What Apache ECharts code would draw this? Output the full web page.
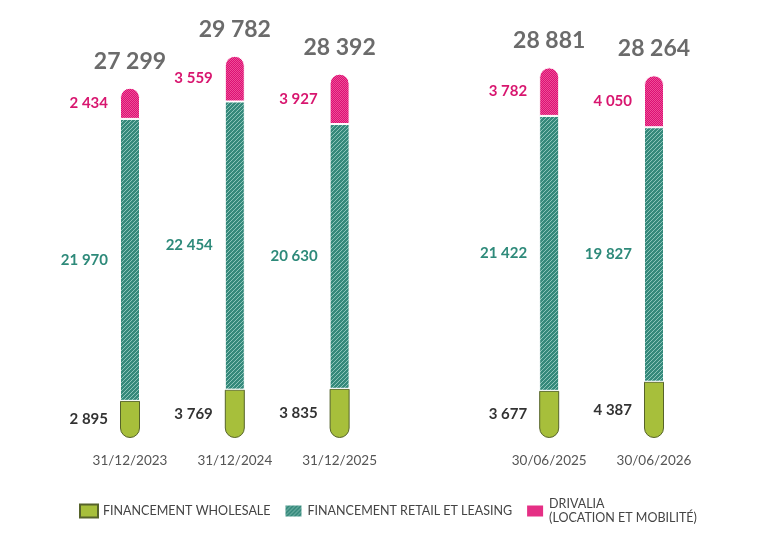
<!DOCTYPE html>
<html>
<head>
<meta charset="utf-8">
<script src="https://cdn.jsdelivr.net/npm/echarts@6/dist/echarts.min.js"></script>
<style>
  html, body { margin: 0; padding: 0; background: #fff; }
  #chart { width: 778px; height: 540px; }
</style>
</head>
<body>
<div id="chart"></div>
<script>
// dates (the empty slot is the gap between the two groups)
var dates = ["31/12/2023", "31/12/2024", "31/12/2025", "", "30/06/2025", "30/06/2026"];
var wholesale = [2895, 3769, 3835, "-", 3677, 4387];
var retail = [21970, 22454, 20630, "-", 21422, 19827];
var drivalia = [2434, 3559, 3927, "-", 3782, 4050];
var totals = [27299, 29782, 28392, "-", 28881, 28264];

function fmt(v) {
    return String(v).replace(/\B(?=(\d{3})+(?!\d))/g, " ");
}

// motifs des barres
function stripes() {
    var c = document.createElement("canvas");
    c.width = 4; c.height = 4;
    var ctx = c.getContext("2d");
    ctx.fillStyle = "#35897b";
    ctx.fillRect(0, 0, 4, 4);
    ctx.fillStyle = "#8cc4b9";
    for (var i = 0; i < 4; i++) {
        ctx.fillRect(3 - i, i, 1, 1);
    }
    return c;
}
function dots() {
    var c = document.createElement("canvas");
    c.width = 2; c.height = 2;
    var ctx = c.getContext("2d");
    ctx.fillStyle = "#dc0f73";
    ctx.fillRect(0, 0, 2, 2);
    ctx.fillStyle = "#ee4f98";
    ctx.fillRect(0, 0, 1, 1);
    ctx.fillRect(1, 1, 1, 1);
    return c;
}

function segLabel(color) {
    return {
        show: true,
        position: "left",
        distance: 12,
        color: color,
        fontSize: 15,
        fontWeight: "bold",
        fontFamily: "Lato",
        formatter: function (p) { return fmt(p.value); }
    };
}

var myChart = echarts.init(document.getElementById("chart"));
var option = {
    animation: false,
    textStyle: { fontFamily: "Lato" },
    grid: { left: 77.6, right: 71.6, top: 53, bottom: 102 },
    xAxis: {
        type: "category",
        data: dates,
        axisLine: { show: false },
        axisTick: { show: false },
        axisLabel: { color: "#555", fontSize: 13.5, margin: 16, fontFamily: "Lato" }
    },
    yAxis: {
        type: "value",
        min: 0,
        max: 30000,
        show: false
    },
    legend: {
        data: ["FINANCEMENT WHOLESALE", "FINANCEMENT RETAIL ET LEASING", "DRIVALIA"],
        left: 74,
        top: 492,
        itemWidth: 18,
        itemHeight: 13,
        itemGap: 13,
        icon: "rect",
        formatter: function (name) {
            return name == "DRIVALIA" ? "DRIVALIA\n(LOCATION ET MOBILITÉ)" : name;
        },
        textStyle: { color: "#444", fontSize: 12.5, fontFamily: "Lato", lineHeight: 14 }
    },
    series: [{
        name: "FINANCEMENT WHOLESALE",
        type: "bar",
        stack: "total",
        barWidth: 20,
        data: wholesale,
        itemStyle: {
            color: "#a7bf3b",
            borderColor: "#56632a",
            borderWidth: 1,
            borderRadius: [0, 0, 10, 10]
        },
        label: segLabel("#333")
    }, {
        name: "FINANCEMENT RETAIL ET LEASING",
        type: "bar",
        stack: "total",
        barWidth: 20,
        data: retail,
        itemStyle: {
            color: { image: stripes(), repeat: "repeat" },
            borderColor: "#fff",
            borderWidth: 1
        },
        label: segLabel("#2e8a7a")
    }, {
        name: "DRIVALIA",
        type: "bar",
        stack: "total",
        barWidth: 20,
        data: drivalia,
        itemStyle: {
            color: { image: dots(), repeat: "repeat" },
            borderColor: "#fff",
            borderWidth: 1,
            borderRadius: [10, 10, 0, 0]
        },
        label: segLabel("#d8166f")
    }, {
        name: "total",
        type: "bar",
        barWidth: 20,
        barGap: "-100%",
        data: totals,
        z: 1,
        itemStyle: { color: "transparent" },
        label: {
            show: true,
            position: "top",
            distance: 15,
            color: "#6b6b6b",
            fontSize: 23,
            fontWeight: "bold",
            fontFamily: "Lato",
            formatter: function (p) { return fmt(p.value); }
        }
    }]
};
myChart.setOption(option);
</script>
</body>
</html>
